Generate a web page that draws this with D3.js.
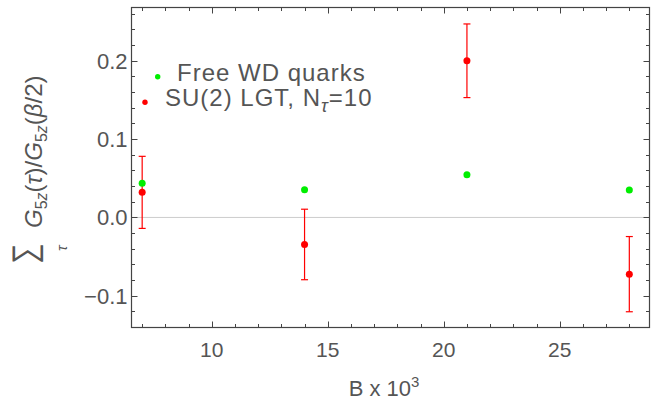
<!DOCTYPE html>
<html><head><meta charset="utf-8">
<script src="https://cdn.jsdelivr.net/npm/d3@7"></script>
<style>body{margin:0;background:#fff}svg{display:block}text{font-family:"Liberation Sans",Arial,sans-serif}</style>
</head><body><svg id="c" width="654" height="400"></svg>
<script>
const bValues = [7, 14, 21, 28];
const freeWD = [0.0438, 0.0354, 0.0545, 0.0349];
const su2 = [0.032, -0.0345, 0.2, -0.0724];
const su2Err = [0.046, 0.045, 0.047, 0.048];
const xTicks = [10, 15, 20, 25];
const yTicks = [-0.1, 0.0, 0.1, 0.2];
const legendLabels = ["Free WD quarks", "SU(2) LGT, N"];

const svg = d3.select("#c");
const L = 131.5, R = 649.5, T = 7.5, B = 327.5;
const x = d3.scaleLinear().domain([6.54, 28.87]).range([L, R]);
const y = d3.scaleLinear().domain([-0.1405, 0.268]).range([B, T]);
const grey = "#555";
const axisCol = "#444";

// zero line
svg.append("line").attr("x1", L).attr("x2", R).attr("y1", y(0)).attr("y2", y(0))
  .attr("stroke", "#ccc").attr("stroke-width", 1);

// frame
svg.append("rect").attr("x", L).attr("y", T).attr("width", R - L).attr("height", B - T)
  .attr("fill", "none").attr("stroke", axisCol).attr("stroke-width", 1.2);

// ticks
const xMinor = d3.range(7, 29, 1);
xMinor.forEach(v => {
  const maj = v % 5 === 0, len = maj ? 6 : 3.5;
  const px = Math.round(x(v)) + 0.5;
  svg.append("line").attr("x1", px).attr("x2", px).attr("y1", B).attr("y2", B - len).attr("stroke", axisCol);
  svg.append("line").attr("x1", px).attr("x2", px).attr("y1", T).attr("y2", T + len).attr("stroke", axisCol);
});
const yMinor = d3.range(-7, 14, 1).map(k => k * 0.02);
yMinor.forEach(v => {
  const k = Math.round(v * 50);
  const maj = k % 5 === 0, len = maj ? 6 : 3.5;
  const py = Math.round(y(v)) + 0.5;
  svg.append("line").attr("y1", py).attr("y2", py).attr("x1", L).attr("x2", L + len).attr("stroke", axisCol);
  svg.append("line").attr("y1", py).attr("y2", py).attr("x1", R).attr("x2", R - len).attr("stroke", axisCol);
});

// tick labels
const fmtY = v => (v < 0 ? "\u2212" : "") + Math.abs(v).toFixed(1);
svg.selectAll(".yl").data(yTicks).enter().append("text")
  .attr("x", L - 4).attr("y", d => y(d) + 8).attr("text-anchor", "end")
  .attr("font-size", 22).attr("fill", grey).text(fmtY);
svg.selectAll(".xl").data(xTicks).enter().append("text")
  .attr("x", d => x(d)).attr("y", 357).attr("text-anchor", "middle")
  .attr("font-size", 21).attr("fill", grey).text(d => d);

// x title
const xt = svg.append("text").attr("x", 384).attr("y", 396).attr("text-anchor", "middle")
  .attr("font-size", 22).attr("fill", grey);
xt.append("tspan").text("B x 10");
xt.append("tspan").attr("dy", -9).attr("font-size", 15).text("3");

// y title (rotated)
const yg = svg.append("g").attr("transform", "translate(42,264) rotate(-90)");
yg.append("text").attr("x", 0).attr("y", -6).attr("font-size", 34).attr("fill", grey)
  .attr("font-family", "DejaVu Sans").attr("transform", "scale(0.85,1)").text("\u2211");
yg.append("text").attr("x", 13).attr("y", 25).attr("font-size", 15).attr("fill", grey)
  .attr("font-style", "italic").text("\u03c4");
const yt = yg.append("text").attr("x", 36).attr("y", 0).attr("font-size", 24).attr("fill", grey);
yt.append("tspan").attr("font-style", "italic").text("G");
yt.append("tspan").attr("font-size", 16).attr("dy", 5).text("5");
yt.append("tspan").attr("font-size", 16).attr("font-style", "italic").text("z");
yt.append("tspan").attr("dy", -5).text("(");
yt.append("tspan").attr("font-style", "italic").text("\u03c4");
yt.append("tspan").text(")/");
yt.append("tspan").attr("font-style", "italic").text("G");
yt.append("tspan").attr("font-size", 16).attr("dy", 5).text("5");
yt.append("tspan").attr("font-size", 16).attr("font-style", "italic").text("z");
yt.append("tspan").attr("dy", -5).text("(");
yt.append("tspan").attr("font-style", "italic").text("\u03b2");
yt.append("tspan").text("/2)");

// error bars
const red = "#ff0000", green = "#00ee00";
bValues.forEach((b, i) => {
  const cx = x(b), y1 = y(su2[i] + su2Err[i]), y2 = y(su2[i] - su2Err[i]);
  svg.append("line").attr("x1", cx).attr("x2", cx).attr("y1", y1).attr("y2", y2).attr("stroke", red).attr("stroke-width", 1.2);
  [y1, y2].forEach(yy => svg.append("line").attr("x1", cx - 3.5).attr("x2", cx + 3.5).attr("y1", yy).attr("y2", yy).attr("stroke", red).attr("stroke-width", 1.2));
});
svg.selectAll(".g").data(bValues).enter().append("circle")
  .attr("cx", d => x(d)).attr("cy", (d, i) => y(freeWD[i])).attr("r", 3.5).attr("fill", green);
svg.selectAll(".r").data(bValues).enter().append("circle")
  .attr("cx", d => x(d)).attr("cy", (d, i) => y(su2[i])).attr("r", 3.5).attr("fill", red);

// legend
svg.append("circle").attr("cx", 157.7).attr("cy", 76.7).attr("r", 2.7).attr("fill", green);
svg.append("circle").attr("cx", 145).attr("cy", 102.3).attr("r", 2.7).attr("fill", red);
svg.append("text").attr("x", 177).attr("y", 80.5).attr("font-size", 24).attr("letter-spacing", 1)
  .attr("fill", grey).text(legendLabels[0]);
const lt = svg.append("text").attr("x", 165).attr("y", 105.5).attr("font-size", 24).attr("letter-spacing", 1).attr("fill", grey);
lt.append("tspan").text(legendLabels[1]);
lt.append("tspan").attr("dy", 6).attr("font-size", 18).attr("font-style", "italic").text("\u03c4");
lt.append("tspan").attr("dy", -6).text("=10");
</script></body></html>
